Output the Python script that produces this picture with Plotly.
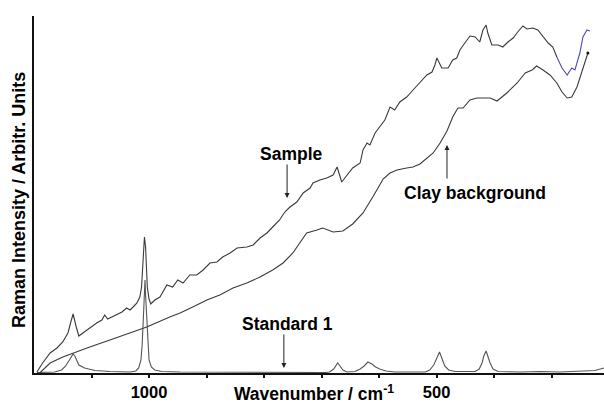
import plotly.graph_objects as go

# Raman spectra (wavenumber in cm-1, intensity in arbitrary units)
sample_wn = [1195, 1185, 1172, 1160, 1150, 1141, 1136, 1132, 1127, 1122, 1115, 1108, 1099,
             1091, 1082, 1077, 1072, 1065, 1056, 1047, 1039, 1033, 1026, 1021, 1016, 1013,
             1011, 1009, 1008, 1006, 1005, 1003, 1000, 997, 990, 981, 969, 959, 950, 941,
             929, 917, 906, 894, 882, 872, 859, 847, 830, 819, 807, 795, 785, 773, 764,
             755, 743, 732, 720, 715, 703, 691, 680, 673, 665, 656, 646, 633, 628, 621,
             616, 607, 599, 590, 581, 573, 564, 552, 541, 529, 517, 508, 503, 499.5, 491,
             480, 472, 465, 459.5, 451, 442, 433, 425, 419.5, 414, 411, 404, 393, 385,
             376, 367, 359, 350, 343, 332.5, 324, 315, 306, 298, 291]
sample_int = [1, 10, 20, 25, 31, 40, 51, 59, 47, 37, 40, 43, 46,
              50, 53, 58, 54, 56, 58, 61, 65, 63, 67, 70, 76, 86,
              106, 126, 136, 126, 106, 86, 74, 69, 73, 76, 88, 86, 93, 90,
              98, 98, 103, 110, 111, 116, 120, 125, 126, 128, 135, 140, 146, 153, 161,
              166, 171, 180, 185, 190, 193, 195, 198, 206, 191, 198, 205, 210, 223, 230,
              228, 240, 246, 253, 266, 263, 271, 276, 283, 290, 298, 301, 308, 315, 305,
              305, 313, 315, 323, 330, 337, 336, 331, 343, 348, 340, 328, 328, 326,
              331, 335, 341, 347, 344, 345, 343, 336, 330, 326, 316]

# low-wavenumber end of the sample spectrum (second acquisition window)
sample_tail_wn = [291, 282, 273, 265, 259.5, 251, 245.6, 238.6, 233.4]
sample_tail_int = [316, 305, 298, 305, 303, 320, 336, 343, 342]

clay_wn = [1190, 1172, 1150, 1132, 1103, 1068, 1033, 1004, 964, 946, 924, 899.5, 877, 854,
           830, 807, 785, 767, 750, 738, 726, 708, 698, 680, 663, 646, 628, 611, 593,
           581, 569, 552, 541, 529, 506, 494, 482, 472, 463, 454, 442, 430, 419.5, 407,
           395, 378, 360, 346, 334, 326, 315, 303, 291, 282, 273, 265, 256, 247, 239, 237]
clay_int = [0, 10, 16, 20, 26, 33, 40, 46, 56, 60, 66, 73, 78, 85,
            90, 96, 103, 110, 120, 130, 140, 143, 145, 141, 142, 149, 160, 176, 194,
            200, 203, 205, 206, 209, 220, 230, 242, 256, 265, 265, 273, 275, 275, 275,
            272, 280, 290, 300, 303, 307, 303, 298, 290, 281, 275, 276, 286, 303, 318, 320]

standard_wn = [1195, 1164, 1152, 1145, 1139.5, 1136, 1132, 1129, 1125.5, 1122, 1112, 1094,
               1068, 1033, 1023, 1018, 1014, 1012, 1010, 1008, 1007, 1006, 1004, 1002,
               1000, 996, 990, 978, 946, 694, 686, 679, 675, 672, 668, 663, 656, 642,
               633, 626, 619.5, 612.5, 606, 599, 588, 573, 520, 512, 505, 499.5, 495,
               491, 486, 479, 468, 433, 426, 421, 418, 414, 411, 407, 402, 393, 355,
               320, 286, 251, 225, 209]
standard_int = [0.5, 1, 3, 7, 12, 16, 19, 17, 12, 8, 5, 2.5,
                1.5, 1, 2, 5, 13, 28, 53, 78, 93, 78, 53, 28,
                13, 6, 3, 1.5, 1, 0.5, 1, 4, 7, 10, 7, 3, 1, 1.5,
                4, 7, 11, 9, 6, 4, 2, 1, 1, 3, 8, 15, 21,
                15, 7, 3, 1.5, 1.5, 4, 10, 17, 22, 17, 10, 4, 1.5, 1,
                1.5, 1, 1.5, 2.5, 5]

major_ticks = [1000, 500]
minor_ticks = [1100, 900, 800, 700, 600, 400, 300]

LINE = "#3a3a3a"
FONT = "Liberation Sans, Arial, sans-serif"

fig = go.Figure()
fig.add_trace(go.Scatter(x=standard_wn, y=standard_int, mode="lines",
                         line=dict(color="#555555", width=1.1)))
fig.add_trace(go.Scatter(x=clay_wn, y=clay_int, mode="lines",
                         line=dict(color=LINE, width=1.1)))
fig.add_trace(go.Scatter(x=[clay_wn[-1]], y=[clay_int[-1]], mode="markers",
                         marker=dict(color="#111111", size=3)))
fig.add_trace(go.Scatter(x=sample_wn, y=sample_int, mode="lines",
                         line=dict(color=LINE, width=1.1)))
fig.add_trace(go.Scatter(x=sample_tail_wn, y=sample_tail_int, mode="lines",
                         line=dict(color="#4b4bb8", width=1.1)))

label_font = dict(family=FONT, size=17.5, color="black", weight="bold")
tick_font = dict(family=FONT, size=16.5, color="black", weight="bold")
ytitle_font = dict(family=FONT, size=18, color="black", weight="bold")

# labels with arrows pointing at each spectrum
fig.add_annotation(x=760, y=175, ax=0, ay=-35, text="", showarrow=True,
                   arrowhead=2, arrowsize=1, arrowwidth=1, arrowcolor="#222222")
fig.add_annotation(x=751.6, y=219.5, text="Sample", showarrow=False, font=label_font)
fig.add_annotation(x=482, y=228, ax=0, ay=35, text="", showarrow=True,
                   arrowhead=2, arrowsize=1, arrowwidth=1, arrowcolor="#222222")
fig.add_annotation(x=432.5, y=180, text="Clay background", showarrow=False, font=label_font)
fig.add_annotation(x=765.6, y=5, ax=0, ay=-35, text="", showarrow=True,
                   arrowhead=2, arrowsize=1, arrowwidth=1, arrowcolor="#222222")
fig.add_annotation(x=759.5, y=49.5, text="Standard 1", showarrow=False, font=label_font)

# axis titles
fig.add_annotation(xref="paper", yref="paper", x=0.491, y=-0.056,
                   text="Wavenumber / cm<sup>-1</sup>", showarrow=False,
                   font=label_font, yanchor="middle")
fig.add_annotation(xref="paper", yref="paper", x=-0.026, y=0.485,
                   text="Raman Intensity / Arbitr. Units", showarrow=False,
                   textangle=-90, font=ytitle_font, xanchor="center", yanchor="middle")

fig.update_layout(
    width=604, height=403,
    margin=dict(l=34, r=0, t=16, b=30),
    paper_bgcolor="white", plot_bgcolor="white",
    showlegend=False,
)
fig.update_xaxes(range=[1200, 209], showgrid=False, zeroline=False,
                 showline=True, linecolor="#111111", linewidth=2,
                 tickvals=major_ticks,
                 ticks="outside", ticklen=3, tickwidth=2, tickcolor="#111111",
                 tickfont=tick_font,
                 minor=dict(tickvals=minor_ticks, ticks="outside", ticklen=3,
                            tickwidth=2, tickcolor="#111111", showgrid=False))
fig.update_yaxes(range=[0, 357], showgrid=False, zeroline=False,
                 showline=True, linecolor="#111111", linewidth=1.5,
                 showticklabels=False, ticks="")

fig.write_html("out.html")
